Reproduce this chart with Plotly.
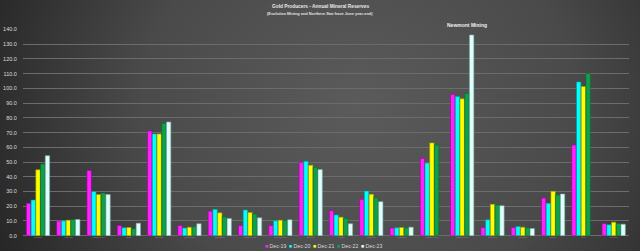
import base64
import plotly.graph_objects as go

# ---- data ----
companies = ["Agnico Eagle", "Alamos Gold", "AngloGold Ashanti", "B2Gold", "Barrick Gold",
             "Centerra Gold", "Eldorado Gold", "Endeavour Mining", "Evolution Mining", "Gold Fields",
             "IAMGOLD", "Kinross Gold", "Kirkland Lake", "Newcrest Mining", "Newmont Mining",
             "Northern Star", "OceanaGold", "Polymetal", "Polyus", "SSR Mining"]
series_names = ["Dec-19", "Dec-20", "Dec-21", "Dec-22", "Dec-23"]
dec19 = [22.0, 9.9, 44.2, 7.0, 71.1, 7.0, 16.6, 7.0, 7.0, 49.8, 17.0, 24.7, 5.2, 52.5, 96.0, 5.6, 5.6, 25.6, 61.5, 8.3]
dec20 = [24.2, 10.0, 29.9, 5.4, 69.1, 5.2, 17.9, 17.5, 10.1, 50.5, 14.1, 30.3, 5.4, 49.3, 94.4, 10.8, 6.3, 22.0, 104.4, 7.4]
dec21 = [44.7, 10.5, 28.0, 5.6, 69.1, 5.8, 15.5, 15.7, 10.5, 47.8, 12.6, 28.1, 5.6, 63.0, 92.9, 21.3, 5.8, 30.1, 101.2, 9.2]
dec22 = [48.7, 11.0, 29.0, 4.7, 76.3, 6.1, 12.8, 14.8, 10.3, 46.4, 11.9, 25.8, 5.4, 61.5, 96.5, 20.9, 5.4, 27.6, 110.0, 8.3]
dec23 = [54.3, 11.0, 28.0, 8.5, 77.2, 8.1, 11.7, 12.1, 10.8, 44.9, 8.1, 23.1, 5.8, None, 136.2, 20.4, 4.9, 28.3, None, 7.8]
y_ticks = [0, 10, 20, 30, 40, 50, 60, 70, 80, 90, 100, 110, 120, 130, 140]
values = [dec19, dec20, dec21, dec22, dec23]

colors = ["#ff22ff", "#00ffff", "#ffff00", "#0fa14a", "#dcfffb"]
edges = ["#a000a0", "#009a9a", "#9a9a00", "#066b2f", "#7fa8a6"]

W, H = 640, 251

fig = go.Figure()
for name, vals, c, e in zip(series_names, values, colors, edges):
    fig.add_trace(go.Bar(x=companies, y=vals, name=name,
                         marker=dict(color=c, line=dict(color=e, width=0.6)),
                         showlegend=False))

# background radial gradient
svg = (
    '<svg xmlns="http://www.w3.org/2000/svg" width="640" height="251">'
    '<defs><radialGradient id="g" cx="0.56" cy="0.42" r="0.62" '
    'gradientTransform="translate(0.56 0.42) scale(1 2.2) translate(-0.56 -0.42)">'
    '<stop offset="0" stop-color="#5b5b5b"/><stop offset="0.55" stop-color="#4a4a4a"/>'
    '<stop offset="1" stop-color="#262626"/></radialGradient></defs>'
    '<rect width="640" height="251" fill="url(#g)"/></svg>'
)
src = "data:image/svg+xml;base64," + base64.b64encode(svg.encode()).decode()

x0, x1 = 22.85, 628.85
y_zero, y_top = 235.7, 29.0

annotations = [
    dict(text="<b>Gold Producers - Annual Mineral Reserves</b>", x=0.5, y=1 - 7 / H,
         xref="paper", yref="paper", showarrow=False, yanchor="middle",
         font=dict(size=4.8, color="#e8e8e8", family="Liberation Sans")),
    dict(text="<b>(Evolution Mining and Northern Star have June year-end)</b>", x=0.5, y=1 - 14 / H,
         xref="paper", yref="paper", showarrow=False, yanchor="middle",
         font=dict(size=3.9, color="#e0e0e0", family="Liberation Sans")),
    dict(text="<b>Newmont Mining</b>", x=companies[14], y=1 - 24.5 / H, xshift=5,
         xref="x", yref="paper", showarrow=False, yanchor="middle",
         font=dict(size=5, color="#f0f0f0", family="Liberation Sans")),
]
# manual legend
lx0, lstep = 263, 24.0
for i, (name, c) in enumerate(zip(series_names, colors)):
    annotations.append(dict(
        text=f'<span style="color:{c}">■</span> {name}',
        x=(lx0 + i * lstep) / W, y=1 - 245.5 / H, xref="paper", yref="paper",
        xanchor="left", yanchor="middle", showarrow=False,
        font=dict(size=5.2, color="#d8d8d8", family="Liberation Sans")))

fig.update_layout(
    width=W, height=H,
    margin=dict(l=0, r=0, t=0, b=0),
    paper_bgcolor="#333333",
    plot_bgcolor="rgba(0,0,0,0)",
    barmode="group", bargap=0.22, bargroupgap=0.08,
    images=[dict(source=src, xref="paper", yref="paper", x=0, y=1, sizex=1, sizey=1,
                 sizing="stretch", layer="below", xanchor="left", yanchor="top")],
    annotations=annotations,
    showlegend=False,
    xaxis=dict(domain=[x0 / W, x1 / W], showgrid=False, zeroline=False, automargin=False,
               tickfont=dict(size=1.5, color="#999999"), ticks="", showline=False,
               tickangle=0),
    yaxis=dict(domain=[(H - y_zero) / H, (H - y_top) / H], range=[0, 140.3],
               tickvals=y_ticks, tickformat=".1f", automargin=False,
               showgrid=True, gridcolor="#6c6c6c", gridwidth=1,
               zeroline=True, zerolinecolor="#6c6c6c", zerolinewidth=1,
               tickfont=dict(size=5.5, color="#dddddd", family="Liberation Sans"),
               ticks="", ticklabelstandoff=5),
)

fig.write_html("out.html")
